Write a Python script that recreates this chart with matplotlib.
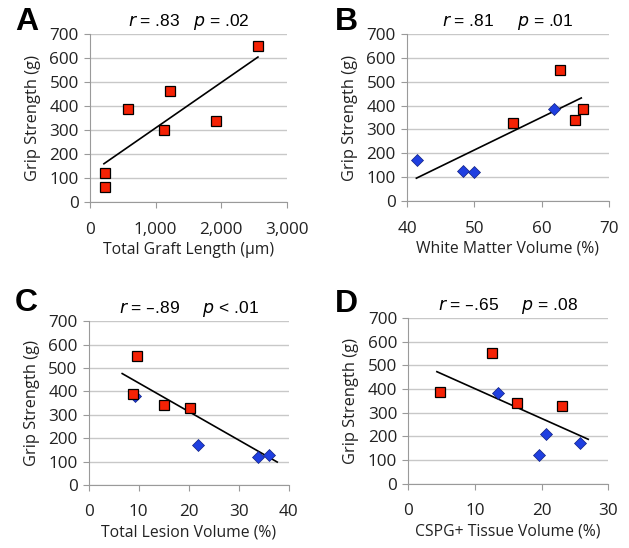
import numpy as np
import matplotlib
matplotlib.use("Agg")
from matplotlib import pyplot as plt

plt.rcParams['font.family'] = ['Open Sans', 'DejaVu Sans']

# Panel A: graft length vs grip strength (all red squares)
a_red_x = [228, 228, 573, 1130, 1221, 1916, 2560]
a_red_y = [63, 121, 389, 299, 462, 339, 651]
a_fit_x = [213, 2560]
a_fit_y = [160, 604]

# Panel B: white matter volume
b_red_x = [55.7, 62.7, 64.9, 66.1]
b_red_y = [328, 550, 338, 387]
b_blue_x = [41.5, 48.4, 49.9, 61.8]
b_blue_y = [172, 128, 123, 385]
b_fit_x = [41.4, 65.9]
b_fit_y = [96, 432]

# Panel C: lesion volume
c_red_x = [9.75, 8.9, 15.0, 20.2]
c_red_y = [553, 388, 340, 328]
c_blue_x = [9.2, 21.9, 33.9, 36.0]
c_blue_y = [380, 171, 120, 127]
c_fit_x = [6.7, 37.7]
c_fit_y = [476, 98]

# Panel D: CSPG+ tissue volume
d_red_x = [4.8, 12.5, 16.3, 23.1]
d_red_y = [388, 552, 339, 328]
d_blue_x = [13.5, 20.7, 19.6, 25.7]
d_blue_y = [384, 211, 120, 171]
d_fit_x = [4.3, 27.0]
d_fit_y = [473, 188]

RED = '#f52205'
BLUE = '#1f3fe0'
GRID = '#c8c8c8'


def style_axes(ax, xlim, xticks, xlabels, xlabel):
    ax.set_xlim(xlim)
    ax.set_ylim(0, 700)
    ax.set_xticks(xticks)
    ax.set_xticklabels(xlabels)
    ax.set_yticks(np.arange(0, 701, 100))
    ax.yaxis.grid(True, color=GRID, linewidth=1)
    ax.set_axisbelow(True)
    for s in ['top', 'right']:
        ax.spines[s].set_visible(False)
    for s in ['left', 'bottom']:
        ax.spines[s].set_color('#9a9a9a')
    ax.tick_params(colors='#9a9a9a', labelcolor='#222222', labelsize=12.3,
                   length=4, direction='out')
    ax.tick_params(axis='y', pad=4)
    ax.tick_params(axis='x', pad=10)
    ax.set_ylabel('Grip Strength (g)', fontsize=11.8, color='#222222', labelpad=6)
    ax.set_xlabel(xlabel, fontsize=11.3, color='#222222', labelpad=3)


fig = plt.figure(figsize=(6.29, 5.48), dpi=100)
axA = fig.add_axes([0.143, 0.631, 0.313, 0.307])
axB = fig.add_axes([0.647, 0.633, 0.321, 0.305])
axC = fig.add_axes([0.141, 0.115, 0.318, 0.299])
axD = fig.add_axes([0.649, 0.117, 0.318, 0.303])

sq = dict(marker='s', color=RED, markeredgecolor='black', markeredgewidth=0.9,
          markersize=6.8, linestyle='none', zorder=3)
dm = dict(marker='D', color=BLUE, markeredgecolor='#102080', markeredgewidth=0.5,
          markersize=6, linestyle='none', zorder=3)

# A
axA.plot(a_fit_x, a_fit_y, color='black', lw=1.2, zorder=2)
axA.plot(a_red_x, a_red_y, **sq)
style_axes(axA, (0, 3000), [0, 1000, 2000, 3000],
           ['0', '1,000', '2,000', '3,000'], 'Total Graft Length (µm)')

# B
axB.plot(b_fit_x, b_fit_y, color='black', lw=1.2, zorder=2)
axB.plot(b_blue_x, b_blue_y, **dm)
axB.plot(b_red_x, b_red_y, **sq)
style_axes(axB, (40, 70), [40, 50, 60, 70], ['40', '50', '60', '70'],
           'White Matter Volume (%)')

# C
axC.plot(c_fit_x, c_fit_y, color='black', lw=1.2, zorder=2)
axC.plot(c_blue_x, c_blue_y, **dm)
axC.plot(c_red_x, c_red_y, **sq)
style_axes(axC, (0, 40), [0, 10, 20, 30, 40], ['0', '10', '20', '30', '40'],
           'Total Lesion Volume (%)')

# D
axD.plot(d_fit_x, d_fit_y, color='black', lw=1.2, zorder=2)
axD.plot(d_blue_x, d_blue_y, **dm)
axD.plot(d_red_x, d_red_y, **sq)
style_axes(axD, (0, 30), [0, 10, 20, 30], ['0', '10', '20', '30'],
           'CSPG+ Tissue Volume (%)')

stats = [(axA, '.83', '= .02', '   '), (axB, '.81', '= .01', '     '),
         (axC, '\u2013.89', '< .01', '     '), (axD, '\u2013.65', '= .08', '     ')]
for ax, r, p, gap in stats:
    ax.set_title('$\\it{r}$ = ' + r + gap + '$\\it{p}$ ' + p,
                 fontsize=12.5, family='Liberation Sans', pad=6)

# panel letters, placed in figure pixels
letters = [('A', 15, 22), ('B', 335, 22), ('C', 15, 303), ('D', 335, 304)]
for letter, px, py in letters:
    fig.text(px / 629, 1 - py / 548, letter, fontsize=23, fontweight='bold',
             family='Liberation Sans', ha='left', va='center')

fig.savefig('out.png', dpi=100)
